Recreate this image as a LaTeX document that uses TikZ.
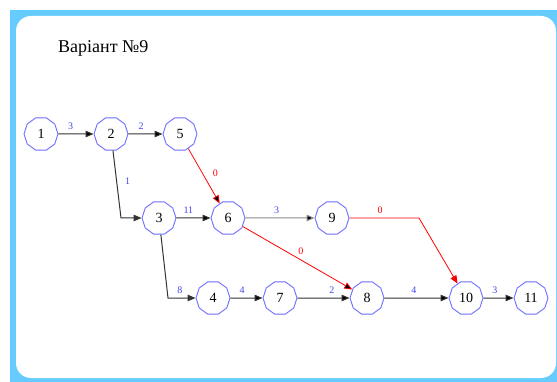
\documentclass[tikz,border=0pt]{standalone}
\usepackage{fontspec}
\setmainfont{Liberation Serif}
\usetikzlibrary{positioning,shapes.geometric,arrows.meta}
\definecolor{frameblue}{RGB}{102,204,255}
\definecolor{nodeblue}{RGB}{110,110,255}
\definecolor{labelblue}{RGB}{70,70,240}
\tikzset{main node/.style={regular polygon,regular polygon sides=10,draw=nodeblue,line width=.9pt,fill=white,minimum size=34pt,inner sep=0pt,font=\fontsize{14}{14}\selectfont},
  job/.style={draw=black!80,line width=1pt,->},
  crit/.style={draw=red,line width=.8pt,->},
  dur/.style={text=labelblue,inner sep=1pt,font=\fontsize{10}{10}\selectfont},
  crit dur/.style={dur,text=red},}

\begin{document}
\begin{tikzpicture}[x=1pt,y=-1pt,>={Triangle[length=8pt,width=6.5pt]}]
    \useasboundingbox (0,0) rectangle (557,382);
    % frame
    \fill[frameblue] (10,10) rectangle (557,382);
    \fill[white,rounded corners=15pt] (16,16) rectangle (556,378);

    \node[anchor=base west,font=\fontsize{18}{18}\selectfont,inner sep=0pt] (title) at (58,53) {Варіант №9};

    \node[main node] (1) at (41,134) {1};
    \node[main node] (2) at (111,134) {2};
    \node[main node] (5) at (180,134) {5};
    \node[main node] (3) at (159,218) {3};
    \node[main node] (6) at (228,218) {6};
    \node[main node] (9) at (332,218) {9};
    \node[main node] (4) at (213,298) {4};
    \node[main node] (7) at (280,298) {7};
    \node[main node] (8) at (367,298) {8};
    \node[main node] (10) at (466,298) {10};
    \node[main node] (11) at (531,298) {11};

    \coordinate (c23) at (121,218);
    \coordinate (c34) at (168,298);
    \coordinate (c910) at (419,218);

    \path[job]
    (1) edge node[dur,above=3pt,pos=.35] {3} (2)
    (2) edge node[dur,above=3pt,pos=.37] {2} (5)
    (3) edge node[dur,above=3pt,pos=.35] {11} (6)
    (4) edge node[dur,above=3pt,pos=.36] {4} (7)
    (7) edge node[dur,above=3pt,pos=.66] {2} (8)
    (8) edge node[dur,above=3pt,pos=.46] {4} (10)
    (10) edge node[dur,above=3pt,pos=.38] {3} (11)
    ;
    \path[job,draw=black!45]
    (6) edge node[dur,above=3pt,pos=.45] {3} (9)
    ;
    \draw[job] (2) -- node[dur,right=7pt,pos=.45] {1} (c23) -- (3);
    \draw[job] (3) -- (c34) -- node[dur,above=3pt,pos=.43] {8} (4);

    \path[crit]
    (5) edge node[crit dur,right=9pt,pos=.45] {0} (6)
    (6) edge node[crit dur,above=4pt,pos=.53] {0} (8)
    ;
    \draw[crit] (9) -- node[crit dur,above=3pt,pos=.44] {0} (c910) -- (10);
\end{tikzpicture}
\end{document}
